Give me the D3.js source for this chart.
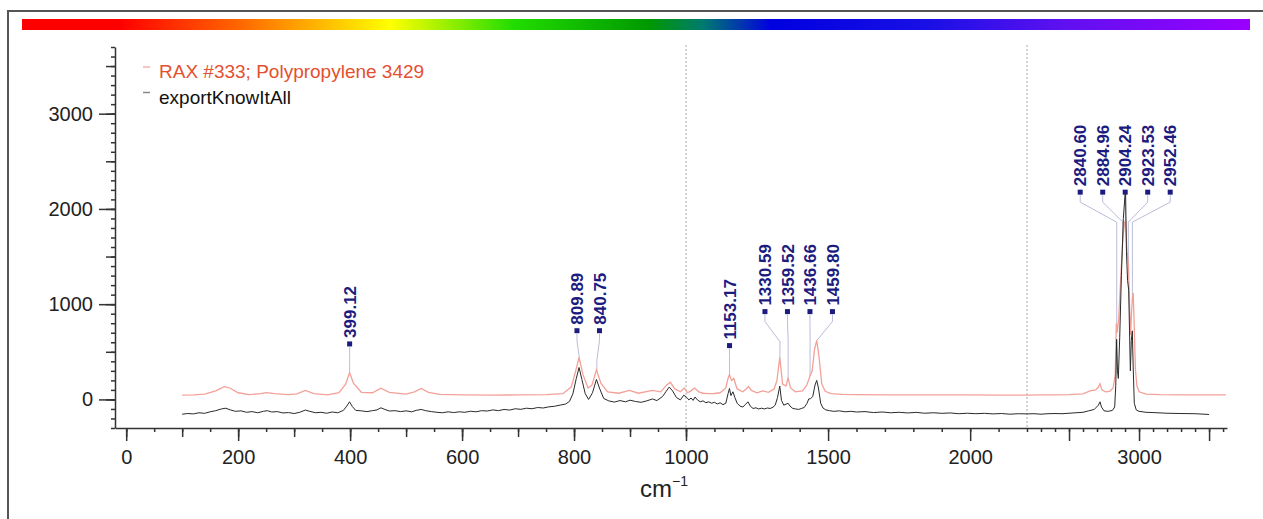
<!DOCTYPE html>
<html>
<head>
<meta charset="utf-8">
<script src="https://cdn.jsdelivr.net/npm/d3@7"></script>
<style>
  body { margin: 0; background: #fff; }
  svg { display: block; font-family: "Liberation Sans", Arial, sans-serif; }
</style>
</head>
<body>
<script>

// series names
var seriesNames = ["RAX #333; Polypropylene 3429", "exportKnowItAll"];

// reference spectrum (pink), [cm-1, intensity]
var refSpectrum = [
  [100,45],[120,48],[140,55],[160,90],[175,135],[185,120],[200,70],[220,50],[240,60],[250,72],
  [265,60],[290,50],[305,58],[320,95],[335,60],[360,48],[380,70],[392,160],[399,280],[406,170],
  [420,75],[440,70],[455,118],[470,75],[500,55],[515,80],[527,115],[540,75],[560,52],[600,48],
  [650,46],[700,47],[750,50],[780,60],[795,130],[803,300],[809,440],[816,260],[825,120],[832,150],
  [840,310],[848,170],[860,80],[880,65],[899,95],[915,65],[940,95],[955,80],[965,150],[972,180],
  [980,110],[990,80],[997,120],[1005,70],[1015,85],[1030,120],[1045,80],[1060,65],[1080,60],[1100,62],
  [1120,70],[1140,120],[1148,220],[1153,262],[1160,200],[1168,220],[1180,110],[1200,80],[1212,110],[1220,135],
  [1230,95],[1250,70],[1270,90],[1290,75],[1310,110],[1320,200],[1330,440],[1340,160],[1352,140],[1359,225],
  [1368,120],[1385,80],[1410,90],[1425,150],[1437,252],[1444,300],[1452,520],[1460,620],[1468,450],[1478,160],
  [1490,85],[1510,60],[1550,52],[1600,50],[1700,48],[1800,47],[1900,48],[2000,47],[2100,46],[2200,46],
  [2300,47],[2400,48],[2500,50],[2600,58],[2650,90],[2690,100],[2710,130],[2721,165],[2735,100],[2760,80],
  [2790,85],[2815,120],[2830,260],[2838,800],[2844,700],[2855,850],[2870,1300],[2885,1700],[2896,1850],[2904,1880],
  [2912,1600],[2924,1420],[2933,950],[2940,680],[2946,900],[2952,1060],[2958,1120],[2965,800],[2974,320],[2985,140],
  [3000,80],[3050,55],[3150,50],[3300,48],[3450,48],[3620,48]
];

// measured spectrum (black), [cm-1, intensity]
var sampleSpectrum = [
  [100,-155],[110,-148],[120,-152],[130,-140],[140,-146],[150,-130],[160,-118],[170,-100],[178,-92],[186,-110],
  [195,-125],[205,-120],[215,-135],[225,-128],[235,-140],[245,-125],[252,-118],[260,-132],[270,-128],[280,-142],
  [290,-138],[300,-148],[310,-135],[320,-112],[328,-125],[338,-140],[348,-135],[358,-145],[368,-132],[378,-140],
  [388,-115],[394,-70],[399,-25],[404,-75],[410,-115],[420,-120],[430,-128],[440,-118],[448,-110],[455,-88],
  [462,-105],[470,-122],[480,-118],[490,-128],[500,-120],[510,-130],[518,-115],[527,-105],[535,-118],[545,-128],
  [555,-135],[565,-140],[575,-130],[585,-138],[595,-130],[605,-135],[615,-124],[625,-130],[635,-118],[645,-122],
  [655,-110],[665,-118],[675,-105],[685,-112],[695,-98],[705,-104],[715,-92],[725,-98],[735,-85],[745,-90],
  [755,-78],[765,-72],[775,-60],[785,-48],[792,-20],[798,60],[804,220],[809,335],[814,210],[820,60],
  [826,0],[833,70],[840,210],[846,110],[853,10],[862,-15],[872,-28],[882,-12],[892,-25],[900,-8],
  [910,-22],[920,-30],[930,-15],[940,5],[948,-12],[958,30],[964,80],[970,130],[976,90],[983,20],
  [990,-5],[996,45],[1003,20],[1010,-5],[1018,15],[1025,-10],[1032,25],[1040,-5],[1050,-25],[1060,-15],
  [1070,-35],[1080,-25],[1090,-40],[1100,-30],[1110,-48],[1120,-35],[1130,-55],[1140,-40],[1148,60],[1153,115],
  [1158,40],[1165,80],[1172,20],[1180,-40],[1190,-70],[1200,-80],[1210,-50],[1218,-25],[1226,-70],[1236,-95],
  [1246,-88],[1256,-100],[1266,-92],[1276,-100],[1286,-90],[1296,-95],[1306,-82],[1314,-60],[1322,20],[1330,140],
  [1336,-10],[1344,-60],[1352,-50],[1359,-40],[1366,-70],[1376,-95],[1386,-100],[1396,-105],[1406,-95],[1416,-85],
  [1426,-40],[1432,5],[1438,8],[1446,30],[1454,150],[1460,200],[1466,120],[1474,-40],[1482,-90],[1492,-110],
  [1505,-118],[1520,-125],[1540,-120],[1560,-130],[1580,-125],[1600,-132],[1630,-128],[1660,-138],[1690,-132],[1720,-140],
  [1750,-135],[1780,-142],[1810,-136],[1840,-145],[1870,-140],[1900,-146],[1930,-142],[1960,-150],[1990,-145],[2020,-150],
  [2050,-146],[2080,-152],[2110,-148],[2140,-155],[2170,-150],[2200,-152],[2250,-150],[2300,-155],[2350,-150],[2400,-148],
  [2450,-150],[2500,-145],[2550,-140],[2600,-135],[2640,-120],[2680,-105],[2710,-60],[2721,-25],[2732,-80],[2750,-120],
  [2780,-125],[2810,-115],[2826,-80],[2834,150],[2840,630],[2846,300],[2852,220],[2862,650],[2874,1300],[2888,1900],
  [2900,2150],[2904,2170],[2910,1550],[2918,1250],[2926,1150],[2932,720],[2938,300],[2945,620],[2952,720],[2958,350],
  [2966,-40],[2980,-110],[3000,-125],[3050,-135],[3100,-138],[3200,-145],[3300,-148],[3400,-150],[3500,-158]
];

// labelled peaks (cm-1)
var peakLabels = [399.12, 809.89, 840.75, 1153.17, 1330.59, 1359.52, 1436.66, 1459.80,
                  2840.60, 2884.96, 2904.24, 2923.53, 2952.46];

// axis ticks
var xTickLabels = [0, 200, 400, 600, 800, 1000, 1500, 2000, 3000];
var xLongTicks = [0, 200, 400, 600, 800, 1000, 1500, 2000, 2500, 3000, 3500];
var yTickLabels = [0, 1000, 2000, 3000];

// rainbow bar colours
var rainbow = [
  [0, "#ff0000"], [0.08, "#ff0000"], [0.18, "#ff6a00"], [0.30, "#ffff00"], [0.40, "#22dd00"],
  [0.51, "#009900"], [0.555, "#007a70"], [0.61, "#0000e0"], [0.74, "#1a10e6"], [0.85, "#6010f0"], [1, "#9a00ff"]
];

var width = 1263, height = 519;

var svg = d3.select("body").append("svg")
    .attr("width", width)
    .attr("height", height);

//frame
svg.append("rect")
    .attr("x", 8).attr("y", 11)
    .attr("width", 1300).attr("height", 600)
    .attr("fill", "none")
    .attr("stroke", "#555")
    .attr("stroke-width", 2);

//rainbow bar
var grad = svg.append("defs").append("linearGradient")
    .attr("id", "rainbow")
    .attr("x1", "0%").attr("x2", "100%");
grad.selectAll("stop").data(rainbow).enter().append("stop")
    .attr("offset", d => d[0])
    .attr("stop-color", d => d[1]);
svg.append("rect")
    .attr("x", 22).attr("y", 19)
    .attr("width", 1228).attr("height", 11)
    .attr("fill", "url(#rainbow)");

// broken x scale: 0-1000, 1000-2200, 2200-end
var x = d3.scaleLinear()
    .domain([-20, 1000, 2200, 3628])
    .range([115, 686, 1027, 1227]);
var y = d3.scaleLinear()
    .domain([-300, 3700])
    .range([428, 47]);

//break lines
svg.selectAll(".brk").data([1000, 2200]).enter().append("line")
    .attr("x1", d => x(d)).attr("x2", d => x(d))
    .attr("y1", 45).attr("y2", 428)
    .attr("stroke", "#aaa")
    .attr("stroke-width", 1)
    .attr("stroke-dasharray", "2,2");

//x axis
var xMinor = d3.range(0, 1000, 50).concat(d3.range(1000, 3601, 100));
var xMid = d3.range(0, 1001, 100);

function styleAxis(g) {
  g.selectAll("path, line").attr("stroke", "#333").attr("stroke-width", 1.5);
  g.attr("font-family", "Liberation Sans, Arial, sans-serif").attr("font-size", 20);
  g.selectAll("text").attr("fill", "#222");
}

svg.append("g")
    .attr("transform", "translate(0,428)")
    .call(d3.axisBottom(x).tickValues(xMinor).tickSize(4).tickSizeOuter(0).tickFormat(""))
    .call(styleAxis);
svg.append("g")
    .attr("transform", "translate(0,428)")
    .call(d3.axisBottom(x).tickValues(xMid).tickSize(9).tickFormat(""))
    .call(styleAxis)
    .select(".domain").remove();
svg.append("g")
    .attr("transform", "translate(0,428)")
    .call(d3.axisBottom(x).tickValues(xLongTicks).tickSize(13).tickPadding(9)
      .tickFormat(d => xTickLabels.indexOf(d) >= 0 ? d : ""))
    .call(styleAxis)
    .select(".domain").remove();

//y axis
svg.append("g")
    .attr("transform", "translate(115,0)")
    .call(d3.axisLeft(y).tickValues(d3.range(-300, 3701, 100)).tickSize(4).tickSizeOuter(0).tickFormat(""))
    .call(styleAxis);
svg.append("g")
    .attr("transform", "translate(115,0)")
    .call(d3.axisLeft(y).tickValues(d3.range(-0, 3501, 500)).tickSize(9).tickFormat(""))
    .call(styleAxis)
    .select(".domain").remove();
svg.append("g")
    .attr("transform", "translate(115,0)")
    .call(d3.axisLeft(y).tickValues(yTickLabels).tickSize(16).tickPadding(6).tickFormat(d3.format("d")))
    .call(styleAxis)
    .select(".domain").remove();

//x axis title
var title = svg.append("text")
    .attr("x", 664).attr("y", 497)
    .attr("text-anchor", "middle")
    .attr("font-size", 24)
    .attr("fill", "#222");
title.append("tspan").text("cm");
title.append("tspan").attr("font-size", 14).attr("dy", -11).text("\u22121");

//peak labels: group close ones and spread them out
var labelGap = 22.5;
var bis = d3.bisector(d => d[0]).left;
function refAt(v) {
  var i = bis(refSpectrum, v);
  var a = refSpectrum[Math.max(0, i - 1)], b = refSpectrum[Math.min(refSpectrum.length - 1, i)];
  if (a[0] === b[0]) return a[1];
  return a[1] + (b[1] - a[1]) * (v - a[0]) / (b[0] - a[0]);
}

var groups = [];
peakLabels.forEach(function(v) {
  var it = { v: v, px: x(v), top: y(refAt(v)) };
  var g = groups[groups.length - 1];
  if (g && it.px - g[g.length - 1].px < labelGap) g.push(it);
  else groups.push([it]);
});

var leaderG = svg.append("g");
var labelG = svg.append("g");
groups.forEach(function(g) {
  var mean = d3.mean(g, d => d.px);
  var my = d3.min(g, d => d.top) - 29;
  g.forEach(function(d, i) {
    var mx = g.length > 1 ? mean + (i - (g.length - 1) / 2) * labelGap : d.px;
    var b1 = my + 10, b2 = Math.min(my + 30, d.top);
    leaderG.append("path")
        .attr("d", "M" + mx + "," + (my + 3) + "L" + mx + "," + b1 + "L" + d.px + "," + b2 + "L" + d.px + "," + d.top)
        .attr("fill", "none")
        .attr("stroke", "#b9bdd9")
        .attr("stroke-width", 1);
    labelG.append("rect")
        .attr("x", mx - 2.5).attr("y", my - 2.5)
        .attr("width", 5).attr("height", 5)
        .attr("fill", "#1c1c80");
    labelG.append("text")
        .attr("transform", "translate(" + mx + "," + (my - 6) + ") rotate(-90)")
        .attr("dy", "0.36em")
        .attr("font-size", 17)
        .attr("font-weight", "bold")
        .attr("fill", "#1c1c80")
        .text(d.v.toFixed(2));
  });
});

//spectra
var line = d3.line().x(d => x(d[0])).y(d => y(d[1]));
svg.append("path")
    .datum(refSpectrum)
    .attr("d", line)
    .attr("fill", "none")
    .attr("stroke", "#f3a198")
    .attr("stroke-width", 1.3);
svg.append("path")
    .datum(sampleSpectrum)
    .attr("d", line)
    .attr("fill", "none")
    .attr("stroke", "#2a2a2a")
    .attr("stroke-width", 1);

//legend
var legend = svg.append("g");
var legendColors = ["#f6b3ab", "#888"];
var legendText = ["#e4502e", "#111"];
seriesNames.forEach(function(n, i) {
  legend.append("line")
      .attr("x1", 143).attr("x2", 150)
      .attr("y1", 67 + i * 25.5).attr("y2", 67 + i * 25.5)
      .attr("stroke", legendColors[i])
      .attr("stroke-width", 1.5);
  legend.append("text")
      .attr("x", 159).attr("y", 78 + i * 25.5)
      .attr("font-size", 19)
      .attr("fill", legendText[i])
      .text(n);
});

</script>
</body>
</html>
